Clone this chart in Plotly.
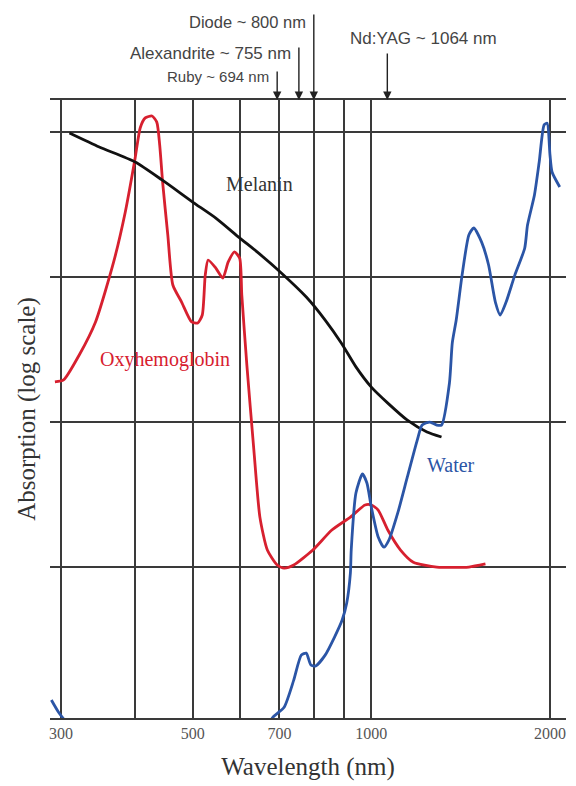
import numpy as np
import plotly.graph_objects as go

# ---- data (wavelength in nm, absorption in arbitrary log units) ----
oxy_wl = [293, 303, 322, 343, 368, 385, 400, 408, 416, 427, 435, 440, 445, 454, 463, 479, 498,
          510, 519, 525, 531, 547, 562, 574, 588, 600, 605, 617, 634, 649, 668, 694, 713, 740,
          797, 858, 922, 976, 1000, 1027, 1066, 1120, 1177, 1289, 1460, 1557]
oxy_abs = [0.189, 0.195, 0.290, 0.490, 1.27, 2.81, 6.62, 10.7, 12.5, 12.9, 11.7, 8.13, 4.52, 1.95,
           0.881, 0.672, 0.490, 0.482, 0.547, 1.03, 1.31, 1.15, 0.984, 1.27, 1.49, 1.35, 0.751,
           0.247, 0.0641, 0.0221, 0.0131, 0.01033, 0.00984, 0.01033, 0.0131, 0.0180, 0.0221,
           0.0268, 0.0268, 0.0247, 0.0180, 0.0131, 0.0108, 0.0100, 0.0100, 0.0105]

mel_wl = [310, 348, 400, 444, 500, 547, 600, 642, 703, 777, 836, 890, 942, 1000, 1066, 1150, 1241, 1313]
mel_abs = [9.84, 7.88, 6.21, 4.67, 3.29, 2.55, 1.86, 1.49, 1.08, 0.728, 0.505, 0.351, 0.240,
           0.174, 0.135, 0.103, 0.0853, 0.0788]

water_wl = [289, 297, 306, None,
            676, 681, 713, 740, 762, 777, 791, 806, 836, 867, 893, 909, 922, 925, 942, 966, 983,
            1000, 1027, 1050, 1071, 1108, 1150, 1195, 1218, 1255, 1289, 1313, 1354, 1369, 1390,
            1422, 1460, 1488, 1534, 1576, 1618, 1649, 1687, 1745, 1813, 1833, 1883, 1918, 1955,
            1978, 2000, 2016, 2077]
water_abs = [0.00121, 0.00100, 0.000853, None,
             0.000826, 0.00091, 0.00108, 0.00166, 0.00247, 0.00255, 0.00211, 0.00208, 0.00247,
             0.00329, 0.00431, 0.00565, 0.0091, 0.0131, 0.0324, 0.0438, 0.0380, 0.0259, 0.0161,
             0.0137, 0.0154, 0.0236, 0.0418, 0.0751, 0.0953, 0.100, 0.0953, 0.0953, 0.186, 0.351,
             0.505, 1.03, 1.95, 2.18, 1.74, 1.21, 0.672, 0.547, 0.672, 1.03, 1.58, 2.28, 3.68,
             6.21, 11.2, 11.5, 6.94, 5.30, 4.18]

grid_wl = [300, 400, 500, 600, 700, 800, 900, 1000, 2000]
grid_text = ["300", "", "500", "", "700", "", "", "1000", "2000"]
grid_abs = [0.01, 0.1, 1, 10]

lasers = ["Ruby ~ 694 nm", "Alexandrite ~ 755 nm", "Diode ~ 800 nm", "Nd:YAG ~ 1064 nm"]
laser_wl = [694, 755, 800, 1064]

RED = "#d7202f"
BLUE = "#2b55a6"
BLACK = "#111111"
GRID = "#3a3a3a"
SERIF = "Liberation Serif, Times New Roman, serif"
SANS = "Liberation Sans, Arial, sans-serif"

fig = go.Figure()
fig.add_trace(go.Scatter(x=oxy_wl, y=oxy_abs, mode="lines", name="Oxyhemoglobin",
                         line=dict(color=RED, width=2.8, shape="spline", smoothing=0.6)))
fig.add_trace(go.Scatter(x=mel_wl, y=mel_abs, mode="lines", name="Melanin",
                         line=dict(color=BLACK, width=2.8, shape="spline", smoothing=0.6)))
fig.add_trace(go.Scatter(x=water_wl, y=water_abs, mode="lines", name="Water", connectgaps=False,
                         line=dict(color=BLUE, width=2.8, shape="spline", smoothing=0.6)))

# curve labels
for txt, wl, ab, col in [("Melanin", 647, 4.38, "#333333"),
                         ("Oxyhemoglobin", 449, 0.272, RED),
                         ("Water", 1364, 0.0505, BLUE)]:
    fig.add_annotation(x=np.log10(wl), y=np.log10(ab), xref="x", yref="y", text=txt,
                       showarrow=False, font=dict(family=SERIF, size=20, color=col))

# laser arrows and labels
arrow_len = [30, 54, 87, 48]
label_shift = [24, 47, 78, 62]
label_size = [15, 17, 16.5, 17]
for name, wl, alen, ysh, fs in zip(lasers, laser_wl, arrow_len, label_shift, label_size):
    fig.add_annotation(x=np.log10(wl), y=1, xref="x", yref="paper", text="",
                       showarrow=True, ax=0, ay=-alen, axref="pixel", ayref="pixel",
                       arrowhead=2, arrowsize=1.2, arrowwidth=1.4, arrowcolor="#222222")
    if name.startswith("Nd"):
        fig.add_annotation(x=np.log10(wl), y=1, xref="x", yref="paper", text=name,
                           showarrow=False, xanchor="left", yanchor="middle",
                           xshift=-39, yshift=ysh,
                           font=dict(family=SANS, size=fs, color="#444444"))
    else:
        fig.add_annotation(x=np.log10(wl), y=1, xref="x", yref="paper", text=name,
                           showarrow=False, xanchor="right", yanchor="middle",
                           xshift=-6, yshift=ysh,
                           font=dict(family=SANS, size=fs, color="#444444"))

fig.update_xaxes(type="log", range=[2.4586, 3.328],
                 tickvals=grid_wl, ticktext=grid_text,
                 showgrid=True, gridcolor=GRID, gridwidth=1.6,
                 showline=True, linecolor=GRID, linewidth=2, mirror=True,
                 ticks="", ticklabelstandoff=0,
                 tickfont=dict(family=SERIF, size=16, color="#555555"),
                 title=dict(text="Wavelength (nm)", standoff=16,
                            font=dict(family=SERIF, size=25, color="#333333")),
                 zeroline=False)
fig.update_yaxes(type="log", range=[-3.041, 1.2207],
                 tickvals=grid_abs, showticklabels=False,
                 showgrid=True, gridcolor=GRID, gridwidth=1.6,
                 showline=False, ticks="", zeroline=False,
                 title=dict(text="Absorption (log scale)", standoff=6,
                            font=dict(family=SERIF, size=25, color="#333333")))

# the page adds an 8 px body margin, so the figure is 8 px smaller than the window
fig.update_layout(width=568, height=778, showlegend=False,
                  margin=dict(l=42, r=10, t=92, b=68),
                  paper_bgcolor="white", plot_bgcolor="white")

fig.write_html("out.html")
